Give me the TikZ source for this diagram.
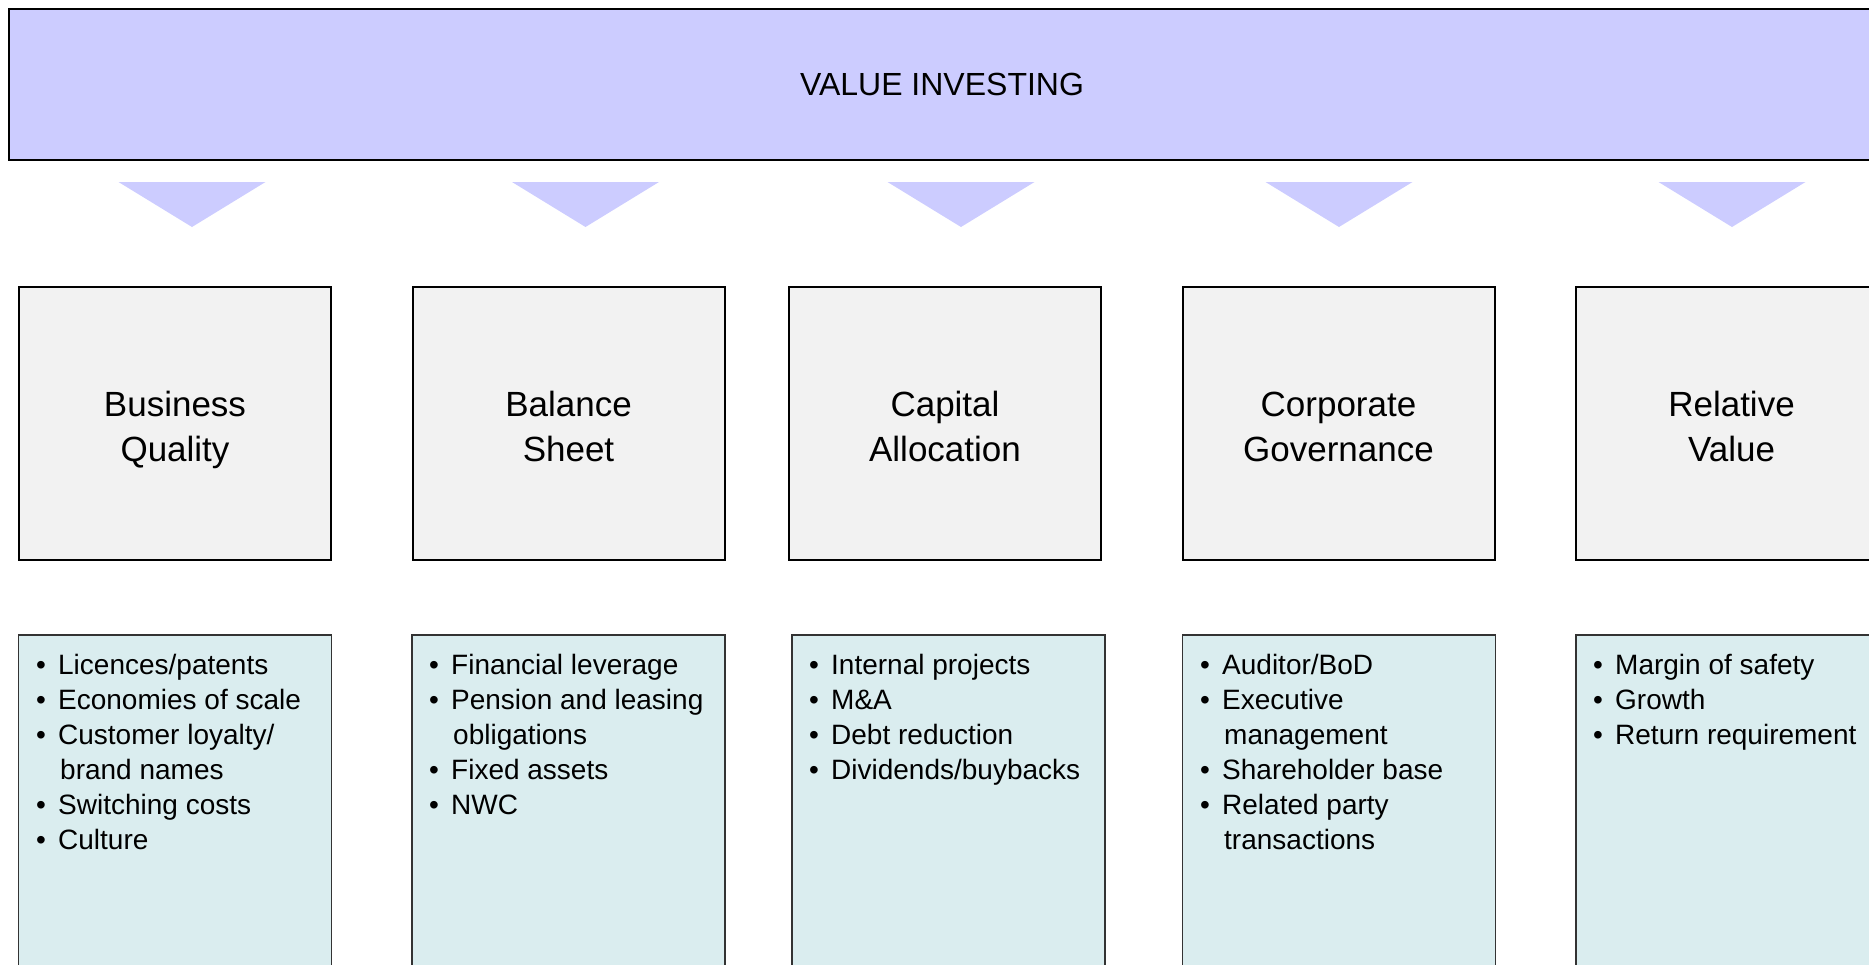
\documentclass[tikz,border=0pt]{standalone}
\usepackage{fontspec}
\setmainfont{Liberation Sans}

\definecolor{bannerblue}{HTML}{CCCCFF}
\definecolor{topicgrey}{HTML}{F2F2F2}
\definecolor{detailblue}{HTML}{DAEDEF}

% bullet marker and hanging indent for wrapped lines
\newcommand\bitem{\makebox[22pt][l]{\textbullet}}
\newcommand\bmore{\hspace*{24pt}}

\tikzset{
  banner/.style={draw=black, line width=2.5pt, fill=bannerblue, inner sep=0pt,
    minimum width=1866pt, minimum height=151pt, font=\fontsize{32}{38}\selectfont},
  topic/.style={draw=black, line width=2pt, fill=topicgrey, inner sep=0pt,
    minimum width=312pt, minimum height=273pt},
  topiclabel/.style={anchor=base, inner sep=0pt, font=\fontsize{35}{45}\selectfont},
  detail/.style={draw=black!80, line width=1.8pt, fill=detailblue, inner sep=0pt,
    minimum width=313pt, minimum height=365pt},
  points/.style={anchor=base west, inner sep=0pt, font=\fontsize{28}{35}\selectfont},
  pointer/.style={fill=bannerblue}
}

% two-line centred label whose first baseline sits at the anchor
\newcommand\twoline[2]{\parbox[t]{300pt}{\centering #1\\#2}}

\begin{document}
\begin{tikzpicture}[x=1pt, y=-1pt]
\useasboundingbox (0,0) rectangle (1869,964);

% title banner
\node[banner] (title) at (942,84.5) {VALUE INVESTING};

% downward pointers under the banner
\foreach \cx in {192,585.5,961,1339,1732}
  \fill[pointer] (\cx-73.5,182) -- (\cx+73.5,182) -- (\cx,227) -- cycle;

% pillar boxes
\node[topic] (bq) at (175,423.5)    {};
\node[topic] (bs) at (568.5,423.5)  {};
\node[topic] (ca) at (945,423.5)    {};
\node[topic] (cg) at (1338.5,423.5) {};
\node[topic] (rv) at (1731.5,423.5) {};

% pillar labels
\node[topiclabel] (bqt) at (175,416)    {\twoline{Business}{Quality}};
\node[topiclabel] (bst) at (568.5,416)  {\twoline{Balance}{Sheet}};
\node[topiclabel] (cat) at (945,416)    {\twoline{Capital}{Allocation}};
\node[topiclabel] (cgt) at (1338.5,416) {\twoline{Corporate}{Governance}};
\node[topiclabel] (rvt) at (1731.5,416) {\twoline{Relative}{Value}};

% detail boxes
\node[detail] (bqd) at (175,817.5)    {};
\node[detail] (bsd) at (568.5,817.5)  {};
\node[detail] (cad) at (948.5,817.5)  {};
\node[detail] (cgd) at (1339,817.5)   {};
\node[detail] (rvd) at (1732.5,817.5) {};

% detail bullet lists
\node[points] (bql) at (36,674) {\parbox[t]{290pt}{\raggedright
  \bitem Licences/patents\\
  \bitem Economies of scale\\
  \bitem Customer loyalty/\\
  \bmore brand names\\
  \bitem Switching costs\\
  \bitem Culture}};
\node[points] (bsl) at (429,674) {\parbox[t]{290pt}{\raggedright
  \bitem Financial leverage\\
  \bitem Pension and leasing\\
  \bmore obligations\\
  \bitem Fixed assets\\
  \bitem NWC}};
\node[points] (cal) at (809,674) {\parbox[t]{290pt}{\raggedright
  \bitem Internal projects\\
  \bitem M\&A\\
  \bitem Debt reduction\\
  \bitem Dividends/buybacks}};
\node[points] (cgl) at (1200,674) {\parbox[t]{290pt}{\raggedright
  \bitem Auditor/BoD\\
  \bitem Executive\\
  \bmore management\\
  \bitem Shareholder base\\
  \bitem Related party\\
  \bmore transactions}};
\node[points] (rvl) at (1593,674) {\parbox[t]{290pt}{\raggedright
  \bitem Margin of safety\\
  \bitem Growth\\
  \bitem Return requirement}};
\end{tikzpicture}
\end{document}
